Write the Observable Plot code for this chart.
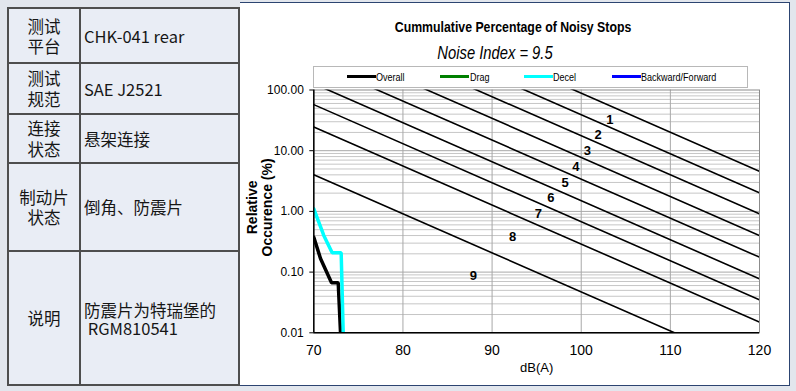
<!DOCTYPE html>
<html><head><meta charset="utf-8">
<script src="https://cdn.jsdelivr.net/npm/d3@7"></script>
<script src="https://cdn.jsdelivr.net/npm/@observablehq/plot@0.6"></script>
<style>
html,body{margin:0;padding:0;}
body{width:796px;height:391px;background:#e2e6ed;position:relative;overflow:hidden;font-family:"Noto Sans CJK SC","Noto Sans",sans-serif;color:#161616;}
#table{position:absolute;left:7px;top:7px;width:233px;height:379px;background:#e9edf5;box-sizing:border-box;border:2px solid #4e4e4e;}
.hline{position:absolute;left:0;right:0;height:2px;background:#4e4e4e;}
.vline{position:absolute;top:0;bottom:0;width:2px;background:#4e4e4e;}
.cellL{position:absolute;display:flex;align-items:center;justify-content:center;text-align:center;white-space:pre;font-size:16.5px;line-height:20.5px;}
.cellR{position:absolute;display:flex;align-items:center;justify-content:flex-start;white-space:pre;font-size:16.5px;line-height:18px;padding-left:3px;box-sizing:border-box;}
#panel{position:absolute;left:240px;top:2px;width:550px;height:384px;background:#fff;box-sizing:border-box;border:1.5px solid #2c4471;border-left:none;}
.narrow{font-family:"Liberation Sans",Arial,sans-serif;white-space:nowrap;color:#000;}
#title{position:absolute;left:513px;top:19.3px;font-weight:bold;font-size:15px;line-height:15px;transform:translateX(-50%) scaleX(0.82);}
#subtitle{position:absolute;left:495px;top:43.7px;font-style:italic;font-size:18px;line-height:18px;transform:translateX(-50%) scaleX(0.82);}
#legend{position:absolute;left:313px;top:66px;width:435px;height:22px;box-sizing:border-box;border:1px solid #b8b8b8;background:#fff;}
.sw{position:absolute;height:3px;top:75.2px;}
.lt{position:absolute;top:71.7px;font-size:11px;line-height:11px;transform-origin:0 50%;transform:scaleX(0.82);}
#chart{position:absolute;left:241px;top:70px;}
</style>
</head><body>
<div id="table"></div>
<div id="panel"></div>
<div id="title" class="narrow">Cummulative Percentage of Noisy Stops</div>
<div id="subtitle" class="narrow">Noise Index = 9.5</div>
<div id="legend"></div>
<div id="chart"></div>
<script>
// ---- table content ----
const rowLabels = ["测试\n平台", "测试\n规范", "连接\n状态", "制动片\n状态", "说明"];
const rowValues = ["CHK-041 rear", "SAE J2521", "悬架连接", "倒角、防震片", "防震片为特瑞堡的\n RGM810541"];

// ---- chart data ----
const noiseIndex = [1, 2, 3, 4, 5, 6, 7, 8, 9];
const noiseAt70 = [7530, 3320, 1496, 658, 288, 127, 57.4, 24.5, 4.01];
const noiseAt120 = [4.59, 2.03, 0.913, 0.401, 0.176, 0.0776, 0.0350, 0.0150, 0.00244];
const labelDb = [103.2, 101.9, 100.7, 99.4, 98.2, 96.6, 95.2, 92.3, 87.9];
const labelPct = [32.7, 18.3, 10.1, 5.35, 2.96, 1.67, 0.913, 0.376, 0.0879];
const overallDb = [70, 70.75, 71.99, 72.74, 73.0];
const overallPct = [0.376, 0.168, 0.0667, 0.0667, 0.01];
const decelDb = [70, 71.12, 72.06, 73.07, 73.3];
const decelPct = [1.10, 0.401, 0.208, 0.208, 0.01];
const seriesNames = ["Overall", "Drag", "Decel", "Backward/Forward"];
const seriesColors = ["#000000", "#008000", "#00ffff", "#0000ff"];
const xTicks = [70, 80, 90, 100, 110, 120];
const yTicks = [0.01, 0.1, 1, 10, 100];

// ---- build table ----
const tbl = document.getElementById("table");
const rowEdges = [0, 54, 105, 154, 242, 377]; // inner layout (px)
const colX = 70;
rowEdges.slice(1, -1).forEach(y => {
  const l = document.createElement("div"); l.className = "hline"; l.style.top = (y - 1) + "px"; tbl.appendChild(l);
});
const vl = document.createElement("div"); vl.className = "vline"; vl.style.left = colX + "px"; tbl.appendChild(vl);
rowLabels.forEach((t, i) => {
  const top = rowEdges[i], h = rowEdges[i + 1] - rowEdges[i];
  const a = document.createElement("div"); a.className = "cellL";
  a.style.cssText = `left:0;width:${colX}px;top:${top}px;height:${h}px;`;
  a.textContent = t; tbl.appendChild(a);
  const b = document.createElement("div"); b.className = "cellR";
  b.style.cssText = `left:${colX + 2}px;right:0;top:${top}px;height:${h}px;`;
  b.textContent = rowValues[i]; tbl.appendChild(b);
});

// ---- legend ----
const swX = [346.7, 440, 523.7, 611.7];
seriesNames.forEach((n, i) => {
  const s = document.createElement("div"); s.className = "sw";
  s.style.left = swX[i] + "px"; s.style.width = "29px"; s.style.background = seriesColors[i];
  document.body.appendChild(s);
  const t = document.createElement("div"); t.className = "lt narrow";
  t.style.left = (swX[i] + 29.5) + "px"; t.textContent = n;
  document.body.appendChild(t);
});

// ---- chart ----
const noiseRows = noiseIndex.flatMap((n, i) => [{n, db: 70, p: noiseAt70[i]}, {n, db: 120, p: noiseAt120[i]}]);
const overall = overallDb.map((d, i) => ({db: d, p: overallPct[i]}));
const decel = decelDb.map((d, i) => ({db: d, p: decelPct[i]}));
const minor = [];
for (const dec of [0.01, 0.1, 1, 10]) for (let k = 2; k <= 9; k++) minor.push(+(k * dec).toPrecision(3));

const chart = Plot.plot({
  width: 548, height: 316,
  marginLeft: 72.3, marginRight: 30, marginTop: 19.5, marginBottom: 53.7,
  x: {domain: [70, 120]},
  y: {type: "log", domain: [0.01, 100]},
  style: {fontFamily: "'Liberation Sans', Arial, sans-serif", fontSize: "12px", color: "#000", background: "transparent"},
  marks: [
    Plot.ruleY(minor, {stroke: "#c6c6c6", strokeWidth: 1}),
    Plot.ruleY([0.1, 1, 10], {stroke: "#a8a8a8", strokeWidth: 1}),
    Plot.ruleX([80, 90, 100, 110], {stroke: "#a8a8a8", strokeWidth: 1}),
    Plot.frame({stroke: "#8c8c8c", strokeWidth: 1}),
    Plot.line(noiseRows, {x: "db", y: "p", z: "n", stroke: "#000", strokeWidth: 1.6, clip: true}),
    Plot.text(noiseIndex, {x: (d, i) => labelDb[i], y: (d, i) => labelPct[i], text: d => String(d), fontWeight: "bold", fontSize: 13}),
    Plot.line(overall, {x: "db", y: "p", stroke: seriesColors[0], strokeWidth: 3.5, strokeLinejoin: "miter", clip: true}),
    Plot.line(decel, {x: "db", y: "p", stroke: seriesColors[2], strokeWidth: 3.5, strokeLinejoin: "miter", clip: true}),
    Plot.ruleX([70], {stroke: "#000", strokeWidth: 1.5}),
    Plot.ruleY([0.01], {stroke: "#000", strokeWidth: 1.5}),
    Plot.axisX(xTicks, {tickSize: 0, tickPadding: 12, fontSize: 14, label: null}),
    Plot.axisY(yTicks, {tickSize: 4, tickPadding: 6, tickFormat: d3.format(".2f"), fontSize: 12, label: null}),
    Plot.text(["Relative\nOccurence (%)"], {frameAnchor: "left", text: d => d, rotate: -90, dx: -54, dy: -4, fontWeight: "bold", fontSize: 14, lineHeight: 1.07, textAnchor: "middle"}),
    Plot.text(["dB(A)"], {frameAnchor: "bottom", text: d => d, dy: 39.4, fontSize: 13})
  ]
});
document.getElementById("chart").appendChild(chart);
</script>
</body></html>
